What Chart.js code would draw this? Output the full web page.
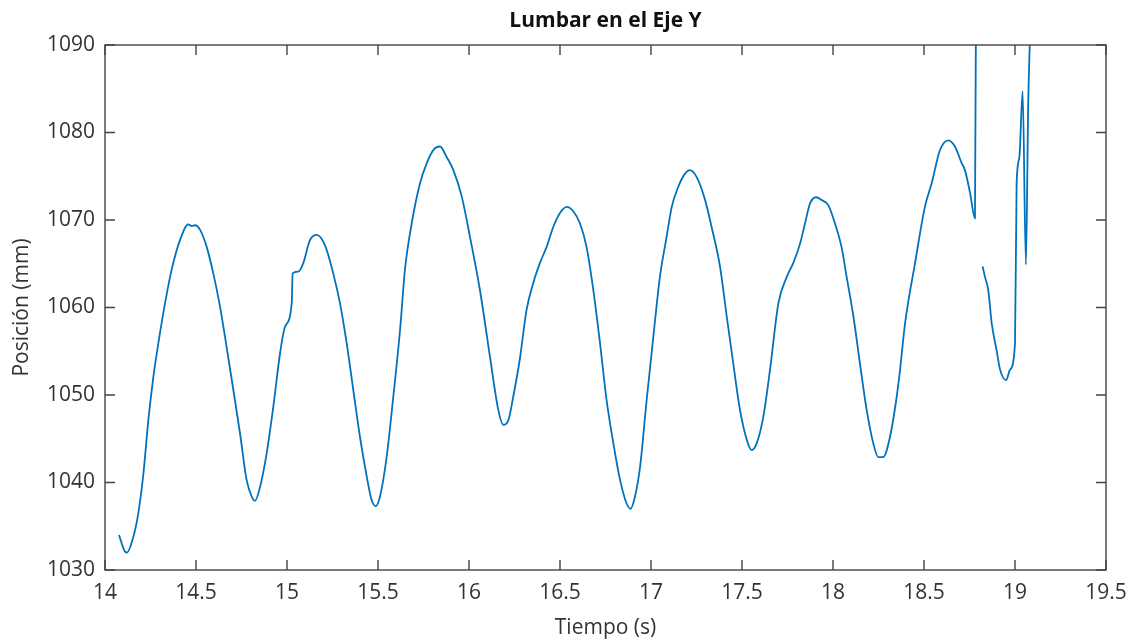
<!DOCTYPE html>
<html>
<head>
<meta charset="utf-8">
<title>Lumbar en el Eje Y</title>
<script src="https://cdn.jsdelivr.net/npm/chart.js@4/dist/chart.umd.min.js"></script>
<style>
  body { margin: 0; background: #fff; }
  #wrap { width: 1138px; height: 643px; }
</style>
</head>
<body>
<div id="wrap"><canvas id="myChart" width="1138" height="643"></canvas></div>
<script>
// Lumbar marker, Y position over time (null = tracking dropout)
const tiempo = [
  14.077, 14.110, 14.121, 14.156, 14.183, 14.211, 14.238, 14.266, 14.293, 14.330,
  14.366, 14.412, 14.458, 14.476, 14.495, 14.522, 14.559, 14.595, 14.632, 14.668,
  14.705, 14.742, 14.778, 14.806, 14.824, 14.852, 14.888, 14.925, 14.962, 14.989,
  15.026, 15.031, 15.062, 15.090, 15.126, 15.163, 15.209, 15.254, 15.291, 15.328,
  15.364, 15.401, 15.438, 15.465, 15.487, 15.511, 15.548, 15.584, 15.621, 15.648,
  15.685, 15.731, 15.768, 15.808, 15.841, 15.877, 15.914, 15.960, 16.005, 16.060,
  16.115, 16.161, 16.188, 16.216, 16.243, 16.280, 16.316, 16.353, 16.390, 16.426,
  16.463, 16.500, 16.537, 16.573, 16.610, 16.646, 16.683, 16.720, 16.756, 16.793,
  16.830, 16.866, 16.888, 16.912, 16.940, 16.976, 17.013, 17.049, 17.086, 17.114,
  17.150, 17.187, 17.214, 17.251, 17.297, 17.333, 17.379, 17.416, 17.452, 17.489,
  17.526, 17.553, 17.581, 17.617, 17.654, 17.700, 17.746, 17.782, 17.819, 17.846,
  17.874, 17.907, 17.937, 17.974, 18.011, 18.047, 18.075, 18.112, 18.148, 18.185,
  18.221, 18.249, 18.276, 18.313, 18.350, 18.368, 18.396, 18.451, 18.505, 18.542,
  18.588, 18.634, 18.670, 18.707, 18.725, 18.753, 18.780, 18.795, 18.800, 18.822,
  18.835, 18.853, 18.872, 18.899, 18.918, 18.951, 18.973, 19.000, 19.009, 19.024,
  19.042, 19.060, 19.073, 19.150
];
const posicion = [
  1034.0, 1032.1, 1032.0, 1033.8, 1036.5, 1041.0, 1047.1, 1052.1, 1055.9, 1060.5,
  1064.3, 1067.7, 1069.5, 1069.3, 1069.4, 1068.9, 1066.9, 1063.9, 1060.1, 1055.5,
  1050.6, 1045.6, 1040.3, 1038.4, 1037.9, 1039.5, 1043.3, 1048.7, 1054.8, 1057.8,
  1060.5, 1063.9, 1064.1, 1065.1, 1067.7, 1068.3, 1067.1, 1063.9, 1060.5, 1055.9,
  1050.6, 1045.2, 1040.7, 1038.0, 1037.3, 1038.4, 1043.0, 1049.8, 1057.4, 1064.3,
  1069.6, 1074.2, 1076.5, 1078.1, 1078.4, 1077.2, 1075.7, 1072.7, 1068.1, 1062.0,
  1054.4, 1048.3, 1046.6, 1047.1, 1049.8, 1054.2, 1059.7, 1062.8, 1065.1, 1066.9,
  1069.2, 1070.8, 1071.5, 1071.0, 1069.6, 1066.9, 1062.0, 1055.9, 1049.4, 1044.5,
  1040.3, 1037.6, 1037.0, 1038.4, 1041.8, 1049.4, 1056.7, 1063.5, 1068.1, 1071.5,
  1073.8, 1075.3, 1075.7, 1074.9, 1072.3, 1069.2, 1064.7, 1059.0, 1053.6, 1048.3,
  1044.9, 1043.7, 1044.5, 1047.5, 1052.9, 1060.5, 1063.5, 1065.1, 1067.3, 1069.6,
  1071.9, 1072.6, 1072.3, 1071.7, 1069.6, 1066.9, 1063.5, 1059.0, 1053.6, 1048.3,
  1044.5, 1042.9, 1042.9, 1045.2, 1049.8, 1052.8, 1058.2, 1065.1, 1071.5, 1074.2,
  1078.0, 1079.1, 1078.4, 1076.5, 1075.7, 1073.1, 1070.2, 1140.0, null, 1064.7,
  1063.5, 1062.0, 1058.2, 1055.1, 1052.9, 1051.7, 1052.9, 1055.9, 1074.2, 1077.2,
  1084.7, 1064.9, 1083.7, 1110.0
];

const TEXT_COLOR = '#333333'
const AXIS_COLOR = '#444444'
const FONT = "'Open Sans', sans-serif"

// MATLAB style box with inward tick marks on all four sides
const boxAxes = {
  id: 'boxAxes',
  afterDatasetsDraw(chart) {
    const { ctx, chartArea: a, scales } = chart
    const len = 10
    ctx.save()
    ctx.strokeStyle = AXIS_COLOR
    ctx.lineWidth = 1.4
    ctx.strokeRect(a.left, a.top, a.right - a.left, a.bottom - a.top)
    ctx.beginPath()
    scales.x.ticks.forEach((t) => {
      const px = scales.x.getPixelForValue(t.value)
      ctx.moveTo(px, a.bottom); ctx.lineTo(px, a.bottom - len)
      ctx.moveTo(px, a.top); ctx.lineTo(px, a.top + len)
    })
    scales.y.ticks.forEach((t) => {
      const py = scales.y.getPixelForValue(t.value)
      ctx.moveTo(a.left, py); ctx.lineTo(a.left + len, py)
      ctx.moveTo(a.right, py); ctx.lineTo(a.right - len, py)
    })
    ctx.stroke()
    ctx.restore()
  }
}

const ctx = document.getElementById('myChart')
const myChart = new Chart(ctx, {
  type: 'line',
  data: {
    datasets: [{
      label: 'Lumbar Y',
      data: tiempo.map((t, i) => ({ x: t, y: posicion[i] })),
      borderColor: '#0072BD',
      borderWidth: 1.8,
      pointRadius: 0,
      cubicInterpolationMode: 'monotone',
      spanGaps: false
    }]
  },
  options: {
    responsive: false,
    animation: false,
    layout: {
      padding: { left: 0, right: 32, top: 0, bottom: 0 }
    },
    scales: {
      x: {
        type: 'linear',
        min: 14,
        max: 19.5,
        grid: { display: false, drawTicks: false },
        border: { display: false },
        ticks: {
          stepSize: 0.5,
          padding: 10,
          color: TEXT_COLOR,
          font: { family: FONT, size: 21 },
          callback: (v) => String(v)
        },
        title: {
          display: true,
          text: 'Tiempo (s)',
          color: TEXT_COLOR,
          font: { family: FONT, size: 21 },
          padding: { top: 0, bottom: 2 }
        },
        afterFit: (scale) => { scale.height = 73 }
      },
      y: {
        min: 1030,
        max: 1090,
        grid: { display: false, drawTicks: false },
        border: { display: false },
        ticks: {
          stepSize: 10,
          padding: 10,
          color: TEXT_COLOR,
          font: { family: FONT, size: 21 },
          callback: (v) => String(v)
        },
        title: {
          display: true,
          text: 'Posición (mm)',
          color: TEXT_COLOR,
          font: { family: FONT, size: 21 },
          padding: { top: 9, bottom: 0 }
        },
        afterFit: (scale) => { scale.width = 105 }
      }
    },
    plugins: {
      legend: { display: false },
      tooltip: { enabled: false },
      title: {
        display: true,
        text: 'Lumbar en el Eje Y',
        fullSize: false,
        color: '#111111',
        font: { family: FONT, size: 21, weight: 'bold', lineHeight: 1.2 },
        padding: { top: 8, bottom: 11.8 }
      }
    }
  },
  plugins: [boxAxes]
})
</script>
</body>
</html>
